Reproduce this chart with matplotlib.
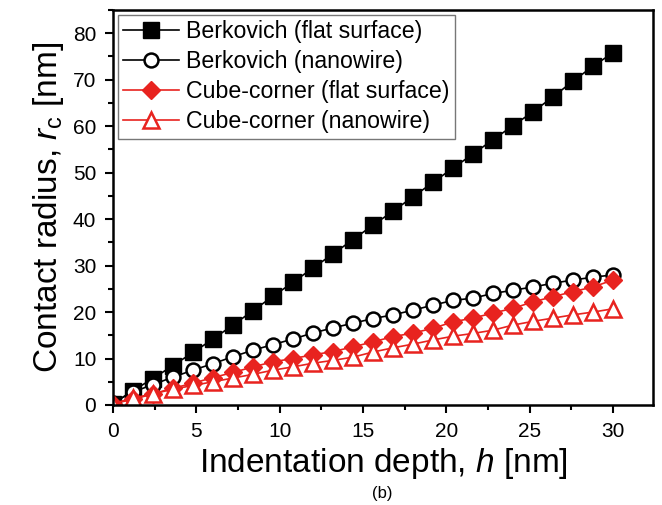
import matplotlib
matplotlib.use("Agg")
import matplotlib.pyplot as plt
from matplotlib.ticker import MultipleLocator

plt.rcParams['font.family'] = ['Liberation Sans', 'DejaVu Sans']
plt.rcParams['mathtext.fontset'] = 'custom'
plt.rcParams['mathtext.rm'] = 'Liberation Sans'
plt.rcParams['mathtext.it'] = 'Liberation Sans:italic'

# Indentation depth h [nm]
depth = [0.0, 1.2, 2.4, 3.6, 4.8, 6.0, 7.2, 8.4, 9.6, 10.8, 12.0, 13.2, 14.4,
         15.6, 16.8, 18.0, 19.2, 20.4, 21.6, 22.8, 24.0, 25.2, 26.4, 27.6, 28.8, 30.0]

berk_flat = [0.3, 3.1, 5.7, 8.5, 11.3, 14.2, 17.2, 20.3, 23.4, 26.4, 29.5, 32.5, 35.6,
             38.7, 41.7, 44.8, 47.9, 51.0, 54.0, 57.1, 60.1, 63.1, 66.3, 69.7, 72.9, 75.8]
berk_wire = [0.5, 2.8, 4.4, 6.0, 7.5, 8.9, 10.4, 11.8, 13.0, 14.2, 15.5, 16.6, 17.6,
             18.6, 19.4, 20.4, 21.5, 22.5, 23.0, 24.0, 24.7, 25.4, 26.2, 26.9, 27.5, 28.0]
cube_flat = [0.3, 1.2, 2.4, 3.6, 4.7, 5.9, 7.0, 8.2, 9.3, 10.0, 10.8, 11.5, 12.5,
             13.6, 14.7, 15.5, 16.5, 17.9, 18.7, 19.8, 20.8, 22.2, 23.3, 24.4, 25.4, 26.9]
cube_wire = [0.3, 1.5, 2.4, 3.4, 4.2, 5.0, 5.8, 6.6, 7.5, 8.2, 9.0, 9.6, 10.3,
             11.4, 12.3, 13.1, 14.0, 14.8, 15.4, 16.1, 17.2, 18.0, 18.7, 19.4, 20.0, 20.7]

labels = ['Berkovich (flat surface)', 'Berkovich (nanowire)',
          'Cube-corner (flat surface)', 'Cube-corner (nanowire)']

red = '#e8231f'

fig = plt.figure(figsize=(6.62, 5.05), dpi=100)
ax = fig.add_axes([113/662, 1-405/505, (653-113)/662, (405-10)/505])

ax.plot(depth, berk_flat, color='black', lw=1.2, marker='s', ms=11,
        mfc='black', mec='black', label=labels[0])
ax.plot(depth, berk_wire, color='black', lw=1.2, marker='o', ms=10,
        mfc='white', mec='black', mew=1.8, label=labels[1])
ax.plot(depth, cube_flat, color=red, lw=1.2, marker='D', ms=9.5,
        mfc=red, mec=red, label=labels[2])
ax.plot(depth, cube_wire, color=red, lw=1.2, marker='^', ms=11,
        mfc='white', mec=red, mew=1.8, label=labels[3])

ax.set_xlim(0, 32.4)
ax.set_ylim(0, 85)
ax.xaxis.set_major_locator(MultipleLocator(5))
ax.xaxis.set_minor_locator(MultipleLocator(2.5))
ax.yaxis.set_major_locator(MultipleLocator(10))
ax.yaxis.set_minor_locator(MultipleLocator(5))
ax.tick_params(which='both', direction='out', width=1.5, labelsize=15, pad=6)
ax.tick_params(which='major', length=6)
ax.tick_params(which='minor', length=3.5)
for s in ax.spines.values():
    s.set_linewidth(1.8)

ax.set_xlabel('Indentation depth, $h$ [nm]', fontsize=24, labelpad=4)
ax.set_ylabel('Contact radius, $r_\\mathregular{c}$ [nm]', fontsize=24, labelpad=5)

leg = ax.legend(loc='upper left', fontsize=16.7, frameon=True, fancybox=False,
                edgecolor='#555555', handlelength=2.4, handletextpad=0.3,
                labelspacing=0.3, borderpad=0.25, borderaxespad=0.2)
leg.get_frame().set_linewidth(1.0)

fig.text(0.578, 0.022, '(b)', ha='center', va='center', fontsize=12)

fig.savefig('out.png', dpi=100)
